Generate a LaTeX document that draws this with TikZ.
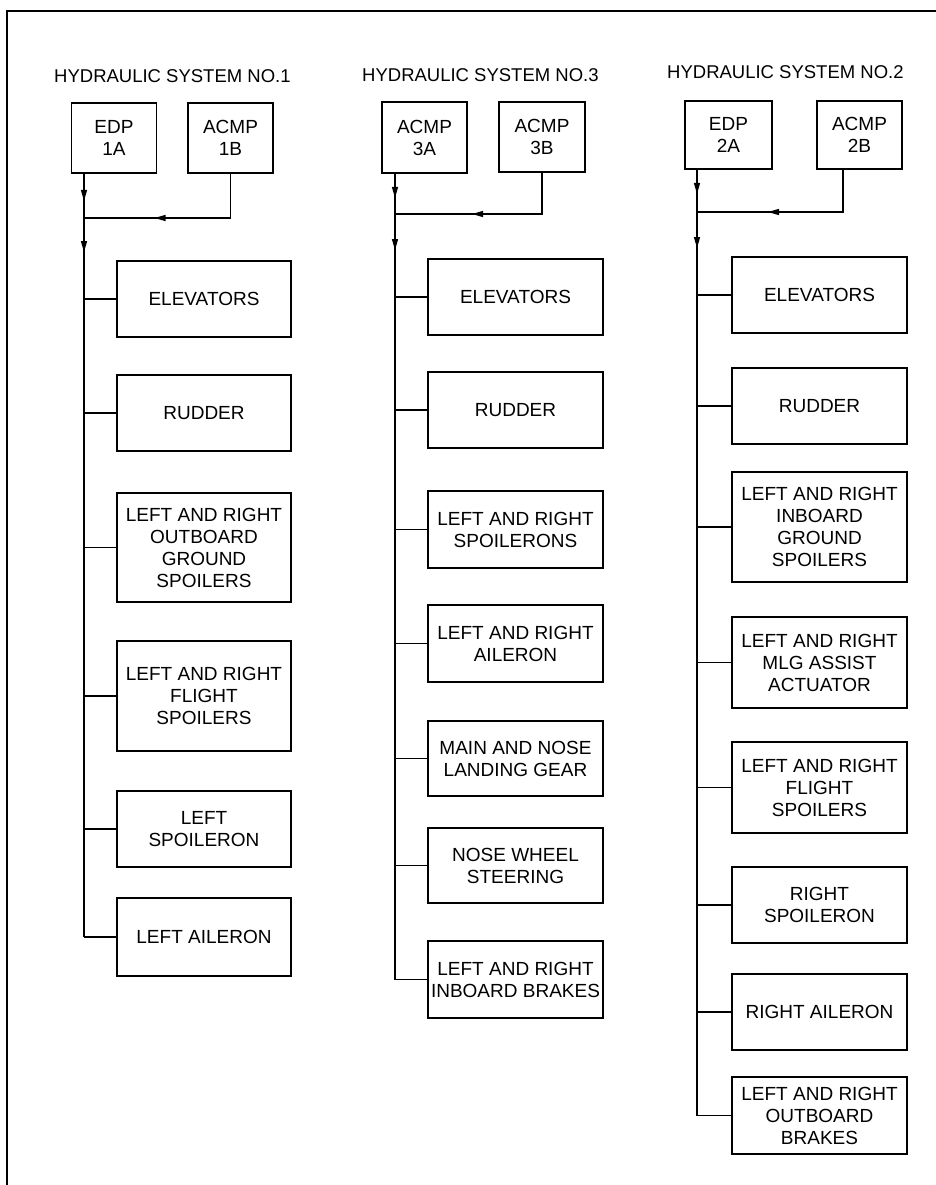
\documentclass[tikz,border=0pt]{standalone}
\usepackage{fontspec}
\setmainfont{Liberation Sans}
\usetikzlibrary{arrows.meta,decorations.markings}
\begin{document}
\begin{tikzpicture}[x=1pt,y=-1pt,
  box/.style={draw, line width=1.8pt, align=center, inner sep=2pt,
    font=\fontsize{19}{22}\selectfont, minimum width=175pt},
  pump/.style={box, minimum width=85pt, minimum height=70pt},
  title/.style={anchor=base west, inner sep=0pt, font=\fontsize{18.5}{22}\selectfont},
  conn/.style={line width=1.3pt},
  arrowat/.style={postaction={decorate}, decoration={markings,
    mark=at position #1 with {\fill (0pt,0pt) -- (-11pt,3.2pt) -- (-11pt,-3.2pt) -- cycle;}}},
  frame/.style={line width=2.5pt}
]
\useasboundingbox (0,0) rectangle (936,1185);
\draw[frame] (7,1195) -- (7,11) -- (945,11);

% ---------------- System No.1 ----------------
\node[title] (t1) at (54,83) {HYDRAULIC SYSTEM NO.1};
\node[pump] (e1a) at (114,138) {EDP\\1A};
\node[pump] (a1b) at (230.5,138) {ACMP\\1B};
\coordinate (j1) at (84,218);
\node[box, minimum width=174pt, minimum height=76pt] (c1a) at (204,299) {ELEVATORS};
\node[box, minimum width=174pt, minimum height=76pt] (c1b) at (204,413) {RUDDER};
\node[box, minimum width=174pt, minimum height=109pt] (c1c) at (204,547.5) {LEFT AND RIGHT\\OUTBOARD\\GROUND\\SPOILERS};
\node[box, minimum width=174pt, minimum height=110pt] (c1d) at (204,696) {LEFT AND RIGHT\\FLIGHT\\SPOILERS};
\node[box, minimum width=174pt, minimum height=76pt] (c1e) at (204,829) {LEFT\\SPOILERON};
\node[box, minimum width=174pt, minimum height=78pt] (c1f) at (204,937) {LEFT AILERON};
\draw[conn, arrowat=27pt] (e1a.south -| j1) -- (j1);
\draw[conn, arrowat=120pt] (a1b.south) -- (a1b.south |- j1) -- (j1);
\draw[conn, arrowat=34pt] (j1) -- (c1f.west -| j1);
\foreach \n in {c1a,c1b,c1c,c1d,c1e,c1f} \draw[conn] (\n.west -| j1) -- (\n.west);

% ---------------- System No.3 ----------------
\node[title] (t3) at (362,82) {HYDRAULIC SYSTEM NO.3};
\node[pump, minimum height=71pt] (a3a) at (424.5,137.5) {ACMP\\3A};
\node[pump, minimum width=86pt] (a3b) at (542,137) {ACMP\\3B};
\coordinate (j3) at (395,214);
\node[box, minimum height=76pt] (c3a) at (515.5,297) {ELEVATORS};
\node[box, minimum height=76pt] (c3b) at (515.5,410) {RUDDER};
\node[box, minimum height=77pt] (c3c) at (515.5,529.5) {LEFT AND RIGHT\\SPOILERONS};
\node[box, minimum height=77pt] (c3d) at (515.5,643.5) {LEFT AND RIGHT\\AILERON};
\node[box, minimum height=75pt] (c3e) at (515.5,758.5) {MAIN AND NOSE\\LANDING GEAR};
\node[box, minimum height=75pt] (c3f) at (515.5,865.5) {NOSE WHEEL\\STEERING};
\node[box, minimum height=77pt] (c3g) at (515.5,979.5) {LEFT AND RIGHT\\INBOARD BRAKES};
\draw[conn, arrowat=24pt] (a3a.south -| j3) -- (j3);
\draw[conn, arrowat=111pt] (a3b.south) -- (a3b.south |- j3) -- (j3);
\draw[conn, arrowat=36pt] (j3) -- (c3g.west -| j3);
\foreach \n in {c3a,c3b,c3c,c3d,c3e,c3f,c3g} \draw[conn] (\n.west -| j3) -- (\n.west);

% ---------------- System No.2 ----------------
\node[title] (t2) at (667,79) {HYDRAULIC SYSTEM NO.2};
\node[pump, minimum width=87pt, minimum height=68pt] (e2a) at (728.5,135) {EDP\\2A};
\node[pump, minimum height=68pt] (a2b) at (859.5,135) {ACMP\\2B};
\coordinate (j2) at (697,212);
\coordinate (a2l) at (843,169);
\node[box, minimum height=76pt] (c2a) at (819.5,295) {ELEVATORS};
\node[box, minimum height=76pt] (c2b) at (819.5,406) {RUDDER};
\node[box, minimum height=110pt] (c2c) at (819.5,527) {LEFT AND RIGHT\\INBOARD\\GROUND\\SPOILERS};
\node[box, minimum height=91pt] (c2d) at (819.5,662.5) {LEFT AND RIGHT\\MLG ASSIST\\ACTUATOR};
\node[box, minimum height=91pt] (c2e) at (819.5,787.5) {LEFT AND RIGHT\\FLIGHT\\SPOILERS};
\node[box, minimum height=76pt] (c2f) at (819.5,905) {RIGHT\\SPOILERON};
\node[box, minimum height=76pt] (c2g) at (819.5,1012) {RIGHT AILERON};
\node[box, minimum height=77pt] (c2h) at (819.5,1115.5) {LEFT AND RIGHT\\OUTBOARD\\BRAKES};
\draw[conn, arrowat=24pt] (e2a.south -| j2) -- (j2);
\draw[conn, arrowat=118pt] (a2l) -- (a2l |- j2) -- (j2);
\draw[conn, arrowat=36pt] (j2) -- (c2h.west -| j2);
\foreach \n in {c2a,c2b,c2c,c2d,c2e,c2f,c2g,c2h} \draw[conn] (\n.west -| j2) -- (\n.west);
\end{tikzpicture}
\end{document}
